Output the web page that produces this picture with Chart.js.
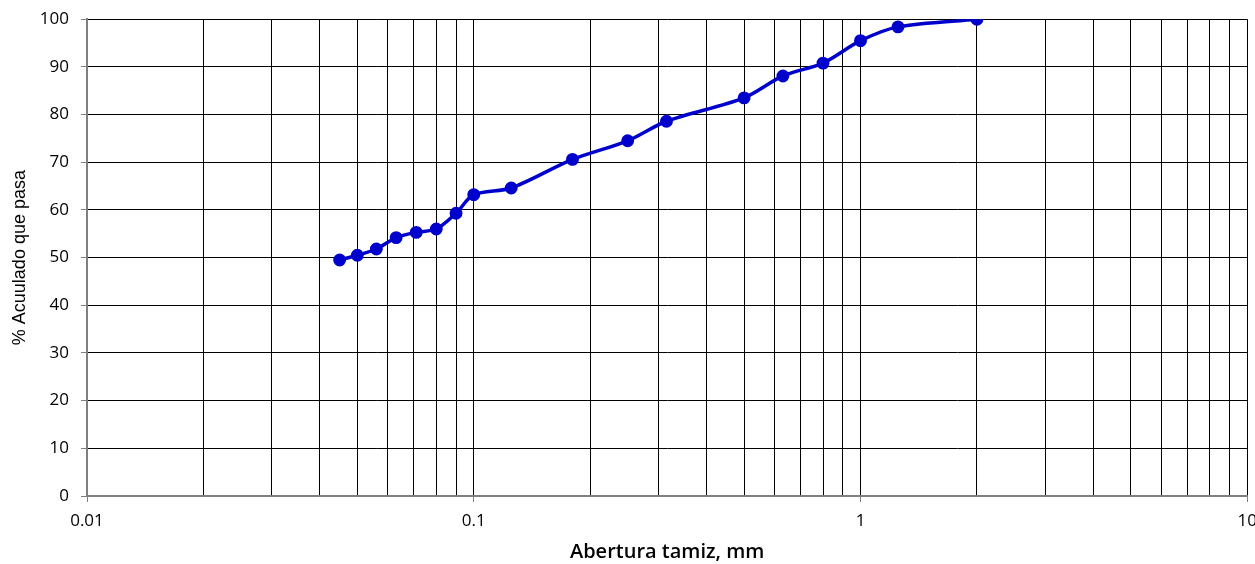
<!DOCTYPE html>
<html>
<head>
<meta charset="utf-8">
<script src="https://cdn.jsdelivr.net/npm/chart.js@4"></script>
<style>
  html, body { margin: 0; padding: 0; background: #fff; overflow: hidden; }
  .wrap { width: 1266px; height: 564px; }
</style>
</head>
<body>
<div class="wrap"><canvas id="granulometria"></canvas></div>
<script>
// tamices (mm) y % acumulado que pasa
const aberturas = [0.045, 0.05, 0.056, 0.063, 0.071, 0.08, 0.09, 0.1, 0.125, 0.18, 0.25, 0.315, 0.5, 0.63, 0.8, 1, 1.25, 2];
const pasa = [49.5, 50.5, 51.8, 54.2, 55.3, 56.0, 59.3, 63.2, 64.6, 70.6, 74.5, 78.6, 83.5, 88.1, 90.8, 95.5, 98.4, 100];
const xLabels = ['0.01', '0.1', '1', '10'];
const yTicks = [0, 10, 20, 30, 40, 50, 60, 70, 80, 90, 100];

const canvas = document.getElementById('granulometria');

// grid lines at 1..9 x each decade
let gridValues = [];
for (let d = 0; d < xLabels.length - 1; d++) {
  let base = Number(xLabels[d]);
  for (let m = 1; m < 10; m++) gridValues.push(+(base * m).toFixed(4));
}
gridValues.push(Number(xLabels[xLabels.length - 1]));

const isMajor = (v) => xLabels.includes(String(v));

new Chart(canvas, {
  type: 'line',
  data: {
    datasets: [{
      label: '% Acumulado',
      data: aberturas.map((a, i) => ({ x: a, y: pasa[i] })),
      borderColor: '#0000cc',
      backgroundColor: '#0000cc',
      borderWidth: 3.5,
      pointRadius: 4.7,
      pointHoverRadius: 4.7,
      tension: 0.3,
      fill: false
    }]
  },
  options: {
    responsive: true,
    maintainAspectRatio: false,
    animation: false,
    layout: { padding: { top: 10, left: 9, bottom: 0, right: 0 } },
    plugins: {
      legend: { display: false },
      tooltip: { enabled: false }
    },
    scales: {
      x: {
        type: 'logarithmic',
        min: 0.01,
        max: 10,
        afterBuildTicks: (scale) => {
          scale.ticks = gridValues.map(v => ({ value: v, major: isMajor(v) }));
        },
        afterFit: (scale) => { scale.height = 68; },
        ticks: {
          autoSkip: false,
          maxRotation: 0,
          color: '#000',
          padding: 9,
          font: { family: 'Open Sans', size: 17 },
          callback: (v) => isMajor(v) ? String(v) : ''
        },
        grid: {
          color: '#000',
          lineWidth: 1,
          tickLength: 6,
          tickColor: (ctx) => (ctx.tick && isMajor(ctx.tick.value)) ? '#808080' : 'rgba(0,0,0,0)'
        },
        border: { color: '#808080', width: 2 },
        title: {
          display: true,
          text: 'Abertura tamiz, mm',
          color: '#000',
          padding: { top: 0, bottom: 0 },
          font: { family: 'Open Sans', size: 20, weight: '600' }
        }
      },
      y: {
        min: 0,
        max: 100,
        afterBuildTicks: (scale) => {
          scale.ticks = yTicks.map(v => ({ value: v }));
        },
        afterFit: (scale) => { scale.width = 78; },
        ticks: {
          color: '#000',
          padding: 12,
          font: { family: 'Open Sans', size: 17, lineHeight: 0.85 }
        },
        grid: {
          color: '#000',
          lineWidth: 1,
          tickLength: 6,
          tickColor: '#808080'
        },
        border: { color: '#808080', width: 2 },
        title: {
          display: true,
          text: '% Acuulado que pasa',
          color: '#000',
          padding: { top: 0, bottom: 0 },
          font: { family: 'Liberation Sans', size: 18 }
        }
      }
    }
  }
});
</script>
</body>
</html>
